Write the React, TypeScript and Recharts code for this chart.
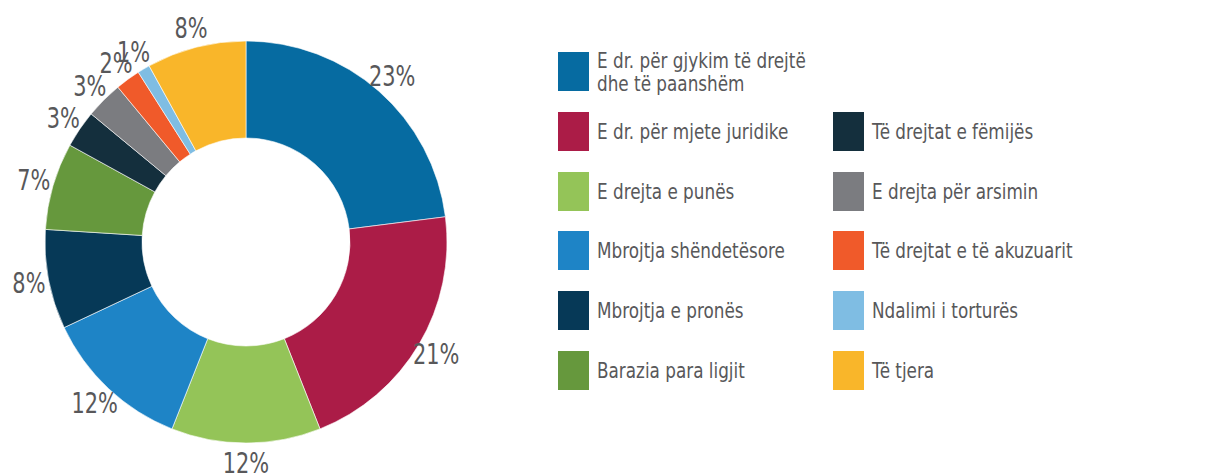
import React from "react";
import { PieChart, Pie, Cell, Legend } from "recharts";

const categories = [
  "E dr. për gjykim të drejtë dhe të paanshëm",
  "E dr. për mjete juridike",
  "E drejta e punës",
  "Mbrojtja shëndetësore",
  "Mbrojtja e pronës",
  "Barazia para ligjit",
  "Të drejtat e fëmijës",
  "E drejta për arsimin",
  "Të drejtat e të akuzuarit",
  "Ndalimi i torturës",
  "Të tjera",
];
const values = [23, 21, 12, 12, 8, 7, 3, 3, 2, 1, 8];
const colors = [
  "#066ba1",
  "#ab1c47",
  "#94c458",
  "#1e84c6",
  "#063957",
  "#66983d",
  "#142f3d",
  "#7b7c80",
  "#f05a2a",
  "#7fbde3",
  "#f9b62a",
];
const legendLines: string[][] = [
  ["E dr. për gjykim të drejtë", "dhe të paanshëm"],
  ["E dr. për mjete juridike"],
  ["E drejta e punës"],
  ["Mbrojtja shëndetësore"],
  ["Mbrojtja e pronës"],
  ["Barazia para ligjit"],
  ["Të drejtat e fëmijës"],
  ["E drejta për arsimin"],
  ["Të drejtat e të akuzuarit"],
  ["Ndalimi i torturës"],
  ["Të tjera"],
];

const data = categories.map((name, i) => ({ name, value: values[i] }));

const FONT = '"DejaVu Sans Condensed", "DejaVu Sans", sans-serif';
const TEXT = "#58585a";
const RAD = Math.PI / 180;

const renderLabel = (p: any) => {
  const { cx, cy, midAngle, outerRadius, value } = p;
  const r = outerRadius + 20;
  const x = cx + r * Math.cos(-midAngle * RAD);
  const y = cy + r * Math.sin(-midAngle * RAD);
  return (
    <text
      transform={`translate(${x},${y}) scale(0.8,1)`}
      fill={TEXT}
      fontFamily={FONT}
      fontSize={29}
      textAnchor="middle"
      dominantBaseline="central"
    >
      {value}%
    </text>
  );
};

const renderLegend = () => {
  return (
    <div style={{ position: "relative", width: 640, height: 340, fontFamily: FONT }}>
      {categories.map((c, i) => {
        const col = i < 6 ? 0 : 1;
        const row = i < 6 ? i : i - 5;
        const lines = legendLines[i];
        return (
          <div
            key={c}
            style={{
              position: "absolute",
              left: col * 275,
              top: row * 59.8,
              height: 39,
              display: "flex",
              alignItems: "center",
            }}
          >
            <div style={{ width: 31, height: 39, background: colors[i], flex: "none" }} />
            <div
              style={{
                marginLeft: 8,
                color: TEXT,
                fontSize: 22,
                lineHeight: "23px",
                whiteSpace: "nowrap",
                transform: "scaleX(0.85)",
                transformOrigin: "left center",
              }}
            >
              {lines.map((l, k) => (
                <div key={k}>{l}</div>
              ))}
            </div>
          </div>
        );
      })}
    </div>
  );
};

export default function App() {
  return (
    <div style={{ position: "absolute", left: 0, top: 0, width: 1210, height: 474, background: "#fff" }}>
      <PieChart width={1210} height={474} margin={{ top: 0, right: 0, bottom: 0, left: 0 }}>
        <Pie
          data={data}
          dataKey="value"
          nameKey="name"
          cx={246}
          cy={242}
          innerRadius={104}
          outerRadius={201}
          startAngle={90}
          endAngle={-270}
          stroke="#ffffff"
          strokeWidth={0.6}
          label={renderLabel}
          labelLine={false}
          isAnimationActive={false}
        >
          {data.map((d, i) => (
            <Cell key={d.name} fill={colors[i]} />
          ))}
        </Pie>
        <Legend
          layout="vertical"
          align="right"
          verticalAlign="top"
          content={renderLegend}
          wrapperStyle={{ position: "absolute", left: 558, top: 52, width: 640, height: 340, right: "auto" }}
        />
      </PieChart>
    </div>
  );
}
